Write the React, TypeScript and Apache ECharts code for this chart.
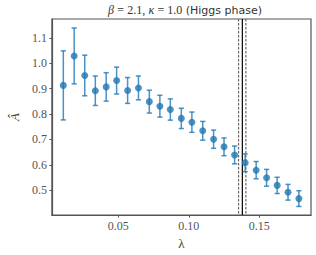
import React, { useEffect, useRef } from "react";
import * as echarts from "echarts";

const lambdaValues = [0.0110, 0.0187, 0.0262, 0.0337, 0.0414, 0.0488, 0.0566, 0.0643, 0.0720, 0.0795, 0.0869, 0.0947, 0.1022, 0.1099, 0.1176, 0.1250, 0.1325, 0.1400, 0.1478, 0.1552, 0.1627, 0.1704, 0.1781];
const aHat = [0.913, 1.029, 0.952, 0.892, 0.907, 0.932, 0.893, 0.903, 0.849, 0.831, 0.818, 0.783, 0.768, 0.734, 0.701, 0.671, 0.639, 0.608, 0.579, 0.549, 0.519, 0.492, 0.467];
const aErr = [0.136, 0.11, 0.08, 0.058, 0.056, 0.053, 0.051, 0.047, 0.045, 0.043, 0.042, 0.040, 0.040, 0.037, 0.036, 0.035, 0.035, 0.035, 0.034, 0.033, 0.032, 0.031, 0.031];
const criticalLambda = 0.138;
const criticalBand = [0.1353, 0.1405];
const xTicks = [0.05, 0.10, 0.15];
const yTicks = [0.5, 0.6, 0.7, 0.8, 0.9, 1.0, 1.1];

const SERIF = "'Liberation Serif', 'Times New Roman', serif";
const BLUE = "#1f77b4";

export default function App() {
  const ref = useRef<HTMLDivElement>(null);
  useEffect(() => {
    if (!ref.current) return;
    const chart = echarts.init(ref.current, undefined, { renderer: "svg" });
    const errData = lambdaValues.map((x, i) => [x, aHat[i] - aErr[i], aHat[i] + aErr[i]]);
    const vlineData = [
      [criticalLambda, 0],
      [criticalBand[0], 1],
      [criticalBand[1], 1],
    ];
    const option: any = {
      animation: false,
      textStyle: { fontFamily: SERIF },
      graphic: [
        {
          type: "text",
          x: 185,
          y: 10,
          style: {
            text: "{m|β} {r|= 2.1,} {m|κ} {r|= 1.0} {s|(Higgs phase)}",
            align: "center",
            verticalAlign: "middle",
            rich: {
              m: { fontFamily: SERIF, fontStyle: "italic", fontWeight: "normal", fontSize: 12, fill: "#333" },
              r: { fontFamily: SERIF, fontWeight: "normal", fontSize: 12, fill: "#333" },
              s: { fontFamily: "'DejaVu Sans', sans-serif", fontWeight: "normal", fontSize: 11, fill: "#333" },
            },
          },
        },
      ],
      grid: {
        left: 41,
        right: 5,
        top: 19,
        bottom: 36,
        show: true,
        borderColor: "#555",
        borderWidth: 1.2,
        backgroundColor: "#fff",
      },
      xAxis: {
        type: "value",
        min: 0.0029,
        max: 0.1867,
        name: "λ",
        nameLocation: "middle",
        nameGap: 17,
        nameTextStyle: { fontFamily: SERIF, fontSize: 13, color: "#444" },
        axisLine: { show: true, lineStyle: { color: "#555", width: 1.2 } },
        axisTick: { show: true, length: 2.5, customValues: xTicks, lineStyle: { color: "#555" } },
        axisLabel: {
          customValues: xTicks,
          formatter: (v: number) => v.toFixed(2),
          fontFamily: SERIF,
          fontSize: 12,
          color: "#555",
          margin: 5,
        },
        splitLine: { show: false },
      },
      yAxis: {
        type: "value",
        min: 0.402,
        max: 1.1745,
        name: "Â",
        nameLocation: "middle",
        nameRotate: 90,
        nameGap: 27,
        nameTextStyle: { fontFamily: SERIF, fontStyle: "italic", fontSize: 13, color: "#444" },
        axisLine: { show: true, lineStyle: { color: "#555", width: 1.2 } },
        axisTick: { show: true, length: 2.5, customValues: yTicks, lineStyle: { color: "#555" } },
        axisLabel: {
          customValues: yTicks,
          formatter: (v: number) => v.toFixed(1),
          fontFamily: SERIF,
          fontSize: 12,
          color: "#555",
          margin: 5,
        },
        splitLine: { show: false },
      },
      series: [
        {
          type: "custom",
          data: vlineData,
          z: 1,
          clip: true,
          renderItem: (params: any, api: any) => {
            const x = api.value(0);
            const dashed = api.value(1) === 1;
            const top = api.coord([x, 1.1745]);
            const bot = api.coord([x, 0.402]);
            return {
              type: "line",
              shape: { x1: top[0], y1: top[1], x2: bot[0], y2: bot[1] },
              style: {
                stroke: dashed ? "#666" : "#000",
                lineWidth: 1.2,
                lineDash: dashed ? [2.5, 1.5] : null,
              },
            };
          },
        },
        {
          type: "custom",
          data: errData,
          z: 2,
          renderItem: (params: any, api: any) => {
            const x = api.value(0);
            const lo = api.coord([x, api.value(1)]);
            const hi = api.coord([x, api.value(2)]);
            const cw = 2.6;
            const style = { stroke: "rgba(31,119,180,0.8)", lineWidth: 1.5 };
            return {
              type: "group",
              children: [
                { type: "line", shape: { x1: lo[0], y1: lo[1], x2: hi[0], y2: hi[1] }, style },
                { type: "line", shape: { x1: lo[0] - cw, y1: lo[1], x2: lo[0] + cw, y2: lo[1] }, style },
                { type: "line", shape: { x1: hi[0] - cw, y1: hi[1], x2: hi[0] + cw, y2: hi[1] }, style },
              ],
            };
          },
        },
        {
          type: "scatter",
          data: lambdaValues.map((x, i) => [x, aHat[i]]),
          symbol: "circle",
          symbolSize: 7,
          itemStyle: { color: BLUE },
          z: 3,
        },
      ],
    };
    chart.setOption(option);
    return () => chart.dispose();
  }, []);
  return <div ref={ref} style={{ width: 316, height: 255, position: "absolute", left: 0, top: 0 }} />;
}
